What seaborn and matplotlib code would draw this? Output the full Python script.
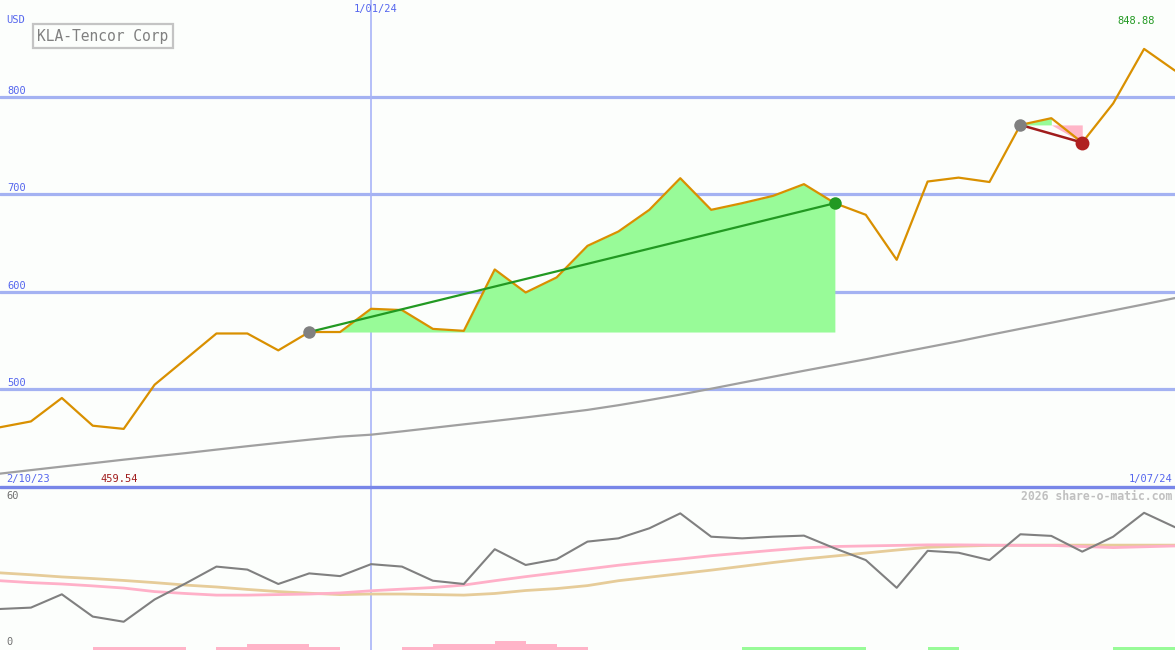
import numpy as np
import pandas as pd
import matplotlib
matplotlib.use("Agg")
import matplotlib.pyplot as plt
import matplotlib.transforms as mtransforms
from matplotlib.lines import Line2D
import seaborn as sns

# ---------------- data ----------------
weeks = list(range(39))
price = [461.2, 467.2, 491.2, 462.8, 459.54, 504.8, 531.0, 557.3, 557.3, 540.0,
         558.8, 558.8, 582.6, 581.3, 562.0, 560.0, 622.9, 599.3, 614.7, 647.1,
         661.8, 684.0, 716.4, 684.0, 690.8, 698.3, 710.3, 690.8, 678.9, 632.8,
         713.0, 717.0, 712.5, 771.0, 777.9, 752.9, 793.0, 848.88, 826.6]
moving_avg = [413.7, 417.3, 420.9, 424.4, 428.0, 431.4, 434.7, 438.3, 441.8, 445.2,
              448.5, 451.6, 453.6, 457.0, 460.6, 464.2, 467.7, 471.3, 475.1, 479.0,
              483.8, 489.1, 494.7, 500.7, 506.9, 513.0, 519.1, 525.0, 530.9, 537.1,
              543.2, 549.3, 555.8, 562.1, 568.3, 574.6, 580.9, 587.2, 593.6]
osc_main = [15.1, 15.6, 20.5, 12.3, 10.4, 18.6, 24.5, 30.7, 29.6, 24.3,
            28.2, 27.2, 31.6, 30.7, 25.5, 24.3, 37.1, 31.3, 33.4, 39.9,
            41.1, 44.8, 50.3, 41.7, 41.1, 41.7, 42.1, 37.4, 33.1, 22.9,
            36.5, 35.8, 33.1, 42.6, 42.0, 36.2, 41.7, 50.5, 45.2]
osc_pink = [25.5, 24.8, 24.3, 23.6, 22.8, 21.5, 20.8, 20.2, 20.2, 20.4,
            20.6, 21.0, 21.8, 22.4, 23.0, 23.9, 25.5, 27.0, 28.4, 29.8,
            31.2, 32.4, 33.5, 34.7, 35.7, 36.7, 37.6, 38.1, 38.3, 38.5,
            38.7, 38.7, 38.6, 38.5, 38.5, 38.1, 37.7, 38.0, 38.3]
osc_tan = [28.4, 27.7, 26.9, 26.3, 25.6, 24.8, 23.9, 23.2, 22.3, 21.5,
           20.9, 20.4, 20.6, 20.6, 20.4, 20.2, 20.8, 21.9, 22.6, 23.7,
           25.5, 26.8, 28.1, 29.4, 30.8, 32.2, 33.5, 34.6, 35.7, 36.8,
           37.8, 38.2, 38.5, 38.6, 38.6, 38.6, 38.6, 38.6, 38.6]
# bar levels per weekly interval (38 intervals)
bars_pink = [0, 0, 0, 1, 1, 1, 0, 1, 2, 2, 1, 0, 0, 1, 2, 2, 3, 2, 1, 0,
             0, 0, 0, 0, 0, 0, 0, 0, 0, 0, 0, 0, 0, 0, 0, 0, 0, 0]
bars_green = [0, 0, 0, 0, 0, 0, 0, 0, 0, 0, 0, 0, 0, 0, 0, 0, 0, 0, 0, 0,
              0, 0, 0, 0, 1, 1, 1, 1, 0, 0, 1, 0, 0, 0, 0, 0, 1, 1]
grid_levels = [500, 600, 700, 800]
trend1 = (10, 27)   # start / end week of the first trend
trend2 = (33, 35)   # start / end week of the second trend
marker_week = 12
label_usd = "USD"
label_title = "KLA-Tencor Corp"
label_marker = "1/01/24"
label_start = "2/10/23"
label_end = "1/07/24"
label_max = "848.88"
label_min = "459.54"
label_credit = "2026 share-o-matic.com"
label_osc_top = "60"
label_osc_bottom = "0"

# ---------------- styling ----------------
sns.set_theme(style="white")
plt.rcParams["font.family"] = ["DejaVu Sans Mono", "DejaVu Sans"]

BG = "#fcfefc"
W, H = 1175, 650
fig = plt.figure(figsize=(W / 100, H / 100), dpi=100, facecolor=BG)
main_h = 487
ax = fig.add_axes([0, (H - main_h) / H, 1, main_h / H])
axb = fig.add_axes([0, 0, 1, (H - main_h) / H])
for a in (ax, axb):
    a.set_facecolor(BG)
    for s in a.spines.values():
        s.set_visible(False)
    a.set_xlim(0, 38)
    a.set_xticks([])
    a.set_yticks([])

df = pd.DataFrame({"week": weeks, "price": price, "ma": moving_avg,
                   "osc": osc_main, "pink": osc_pink, "tan": osc_tan})
x = np.array(weeks, dtype=float)
p = np.array(price)

# gridlines
for g in grid_levels:
    ax.axhline(g, color="#a4b2f2", lw=2.3, zorder=1)
ax.axvline(marker_week, color="#a8b4f8", lw=1.2, zorder=1)
axb.axvline(marker_week, color="#a8b4f8", lw=1.2, zorder=1)

# shaded trend areas
s1, e1 = trend1
b1 = price[s1]
ax.fill_between(x[s1:e1 + 1], p[s1:e1 + 1], b1, color="#98fb98", lw=0, zorder=2)
s2, e2 = trend2
b2 = price[s2]
ax.fill_between(x[s2:s2 + 2], p[s2:s2 + 2], b2, color="#98fb98", lw=0, zorder=2)
ax.fill_between(x[s2 + 1:e2 + 1], np.minimum(p[s2 + 1:e2 + 1], b2), b2,
                color="#ffb6c8", lw=0, zorder=2)

# lines
sns.lineplot(data=df, x="week", y="ma", ax=ax, color="#a0a0a0", lw=1.6, zorder=3)
sns.lineplot(data=df, x="week", y="price", ax=ax, color="#d99000", lw=1.6, zorder=4)
ax.plot([x[s1], x[e1]], [price[s1], price[e1]], color="#229922", lw=1.6, zorder=5)
ax.plot([x[s2], x[e2]], [price[s2], price[e2]], color="#a01c1c", lw=1.8, zorder=5)
ax.plot([x[s1]], [price[s1]], "o", ms=9, color="#808080", mec="none", zorder=6)
ax.plot([x[e1]], [price[e1]], "o", ms=9, color="#229922", mec="none", zorder=6)
ax.plot([x[s2]], [price[s2]], "o", ms=9, color="#808080", mec="none", zorder=6)
ax.plot([x[e2]], [price[e2]], "o", ms=10, color="#b02020", mec="none", zorder=6)
ax.set_xlim(0, 38)
ax.set_ylim(400, 899)
ax.set_xlabel("")
ax.set_ylabel("")

# bottom panel
sns.lineplot(data=df, x="week", y="tan", ax=axb, color="#e6cc99", lw=2.0, zorder=3)
sns.lineplot(data=df, x="week", y="pink", ax=axb, color="#ffb0c8", lw=2.0, zorder=3)
sns.lineplot(data=df, x="week", y="osc", ax=axb, color="#808080", lw=1.5, zorder=4)
axb.set_xlim(0, 38)
axb.set_ylim(0, 60)
axb.set_xlabel("")
axb.set_ylabel("")
axb2 = axb.twinx()
axb2.set_ylim(0, (H - main_h) / 3)
axb2.set_xlim(0, 38)
axb2.bar(x[:-1], bars_pink, width=1, align="edge", color="#ffb4c8", lw=0)
axb2.bar(x[:-1], bars_green, width=1, align="edge", color="#98fb98", lw=0)
axb2.set_axis_off()

# separator between panels
fig.add_artist(Line2D([0, 1], [(H - main_h) / H] * 2, color="#7886e8", lw=2.4))

# ---------------- texts ----------------
BLUE = "#5566ee"


def ptext(xp, yp, s, **kw):
    fig.text(xp / W, 1 - yp / H, s, va="center", **kw)


ptext(6, 20, label_usd, color=BLUE, fontsize=7.5)
ptext(376, 9, label_marker, color=BLUE, fontsize=7.5, ha="center")
ptext(1117, 21, label_max, color="#229922", fontsize=7.5)
ptext(6, 479, label_start, color=BLUE, fontsize=7.5)
ptext(100, 479, label_min, color="#a01c1c", fontsize=7.5)
ptext(1172, 479, label_end, color=BLUE, fontsize=7.5, ha="right")
ptext(1172, 496, label_credit, color="#c0c0c0", fontsize=8.3, ha="right",
      fontweight="bold")
ptext(6, 496, label_osc_top, color="#707070", fontsize=7.5)
ptext(6, 642, label_osc_bottom, color="#707070", fontsize=7.5)
ptext(37, 36, label_title, color="#808080", fontsize=10.5,
      bbox=dict(boxstyle="square,pad=0.3", fc=BG, ec="#c4c4c4", lw=1.6))

off = mtransforms.offset_copy(ax.get_yaxis_transform(), fig=fig, x=0,
                              y=0.8, units="points")
for g in grid_levels:
    ax.text(0.006, g, str(g), transform=off, color=BLUE, fontsize=7.5,
            va="bottom")

fig.savefig("out.png", dpi=100, facecolor=BG)
